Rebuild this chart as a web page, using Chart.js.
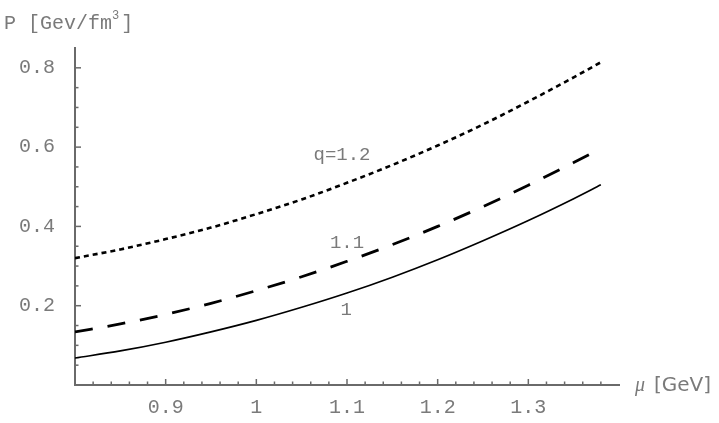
<!DOCTYPE html>
<html><head><meta charset="utf-8">
<script src="https://cdn.jsdelivr.net/npm/chart.js@4.4.1/dist/chart.umd.min.js"></script>
<style>html,body{margin:0;padding:0;background:#fff}#wrap{width:719px;height:423px;position:relative}</style>
</head><body><div id="wrap"><canvas id="c" width="719" height="423"></canvas></div>
<script>
// chemical potential mu [GeV]
const MU = [0.80,0.85,0.90,0.95,1.00,1.05,1.10,1.15,1.20,1.25,1.30,1.35,1.38];
// pressure P [GeV/fm^3] for q = 1, 1.1, 1.2
const P_Q1  = [0.068,0.086,0.108,0.134,0.163,0.196,0.232,0.272,0.316,0.364,0.415,0.470,0.505];
const P_Q11 = [0.134,0.154,0.178,0.206,0.238,0.273,0.312,0.354,0.400,0.450,0.504,0.561,0.597];
const P_Q12 = [0.320,0.342,0.368,0.397,0.431,0.468,0.510,0.555,0.604,0.657,0.715,0.776,0.814];
// tick labels
const X_TICKS = [0.9,1,1.1,1.2,1.3];
const Y_TICKS = [0.2,0.4,0.6,0.8];
const Y_TITLE = ['P [Gev/fm', '3', ']'];
const X_TITLE = ['\u03bc', '[GeV]'];
const CURVE_NAMES = ['q=1.2','1.1','1'];

const X_MINOR = [];
for (let i = 41; i < 70; i++) { const v = i/50; if (i % 5 !== 0) X_MINOR.push(+v.toFixed(2)); }
const Y_MINOR = [];
for (let i = 1; i < 17; i++) { if (i % 4 !== 0) Y_MINOR.push(+(i*0.05).toFixed(2)); }

const AXIS_COL = '#6a6a6a';
const TEXT_COL = '#7a7a7a';
const MONO = "'Liberation Mono', 'DejaVu Sans Mono', monospace";

const LABEL_POS = [ {x:1.0945, y:0.581}, {x:1.100, y:0.357}, {x:1.099, y:0.190} ];

const pts = (ys) => MU.map((m,i)=>({x:m, y:ys[i]}));

const decor = {
  id:'decor',
  afterDraw(chart){
    const {ctx, scales:{x, y}} = chart;
    ctx.save();
    ctx.strokeStyle = AXIS_COL; ctx.lineWidth = 1.5;
    const y0 = y.getPixelForValue(0), x0 = x.getPixelForValue(0.8);
    const line=(a,b,c,d)=>{ctx.beginPath();ctx.moveTo(a,b);ctx.lineTo(c,d);ctx.stroke();};
    X_TICKS.forEach(v=>{const p=x.getPixelForValue(v); line(p,y0,p,y0-6);});
    X_MINOR.forEach(v=>{const p=x.getPixelForValue(v); line(p,y0,p,y0-3.5);});
    Y_TICKS.forEach(v=>{const p=y.getPixelForValue(v); line(x0,p,x0+6,p);});
    Y_MINOR.forEach(v=>{const p=y.getPixelForValue(v); line(x0,p,x0+3.5,p);});
    // y title
    ctx.fillStyle = TEXT_COL;
    ctx.textBaseline = 'alphabetic'; ctx.textAlign = 'left';
    ctx.font = '20px ' + MONO;
    let tx = 4; const ty = 29;
    ctx.fillText(Y_TITLE[0], tx, ty); tx += ctx.measureText(Y_TITLE[0]).width;
    ctx.font = '12px ' + MONO;
    ctx.fillText(Y_TITLE[1], tx, ty-10); tx += ctx.measureText(Y_TITLE[1]).width + 2;
    ctx.font = '20px ' + MONO;
    ctx.fillText(Y_TITLE[2], tx, ty);
    // x title
    ctx.textBaseline = 'middle';
    const uy = y0 + 1;
    ctx.font = 'italic 20px "Liberation Serif", serif';
    ctx.fillText(X_TITLE[0], 635, uy);
    ctx.font = '20px "DejaVu Sans", sans-serif';
    ctx.fillText(X_TITLE[1], 654, uy);
    // curve labels
    ctx.font = '19px ' + MONO; ctx.textAlign = 'center';
    CURVE_NAMES.forEach((t,i)=>{
      ctx.fillText(t, x.getPixelForValue(LABEL_POS[i].x), y.getPixelForValue(LABEL_POS[i].y));
    });
    ctx.restore();
  }
};

new Chart(document.getElementById('c'), {
  type:'line',
  data:{ datasets:[
    {label:'q=1.2', data:pts(P_Q12), borderColor:'#000', borderWidth:2.6, borderDash:[5,4], pointRadius:0, cubicInterpolationMode:'monotone', fill:false},
    {label:'q=1.1', data:pts(P_Q11), borderColor:'#000', borderWidth:2.8, borderDash:[18,15], pointRadius:0, cubicInterpolationMode:'monotone', fill:false},
    {label:'q=1', data:pts(P_Q1), borderColor:'#000', borderWidth:1.6, pointRadius:0, cubicInterpolationMode:'monotone', fill:false}
  ]},
  options:{
    responsive:false, animation:false, devicePixelRatio:1,
    layout:{padding:{left:0, top:48, right:100, bottom:0}},
    plugins:{legend:{display:false}, tooltip:{enabled:false}},
    scales:{
      x:{type:'linear', min:0.8, max:1.4,
        grid:{display:false}, border:{display:true, color:AXIS_COL, width:2},
        afterBuildTicks(s){ s.ticks = X_TICKS.map(v=>({value:v})); },
        afterFit(s){ s.height = 38; },
        ticks:{font:{family:MONO, size:20}, color:TEXT_COL, padding:3, maxRotation:0, autoSkip:false,
          callback:(v)=> String(+v.toFixed(2))}},
      y:{type:'linear', min:0, max:0.85,
        grid:{display:false}, border:{display:true, color:AXIS_COL, width:2},
        afterBuildTicks(s){ s.ticks = Y_TICKS.map(v=>({value:v})); },
        afterFit(s){ s.width = 75; },
        ticks:{font:{family:MONO, size:20}, color:TEXT_COL, padding:12, autoSkip:false,
          callback:(v)=> v.toFixed(1)}}
    }
  },
  plugins:[decor]
});
</script></body></html>
